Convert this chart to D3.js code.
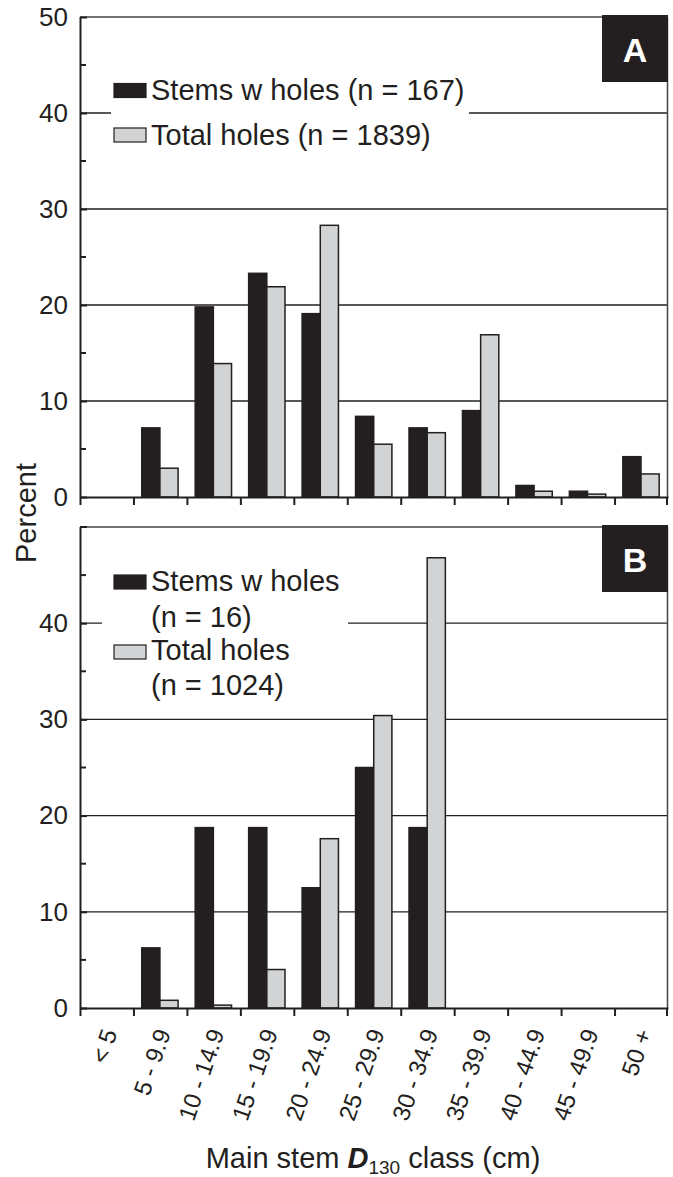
<!DOCTYPE html>
<html><head><meta charset="utf-8">
<script src="https://cdn.jsdelivr.net/npm/d3@7"></script>
<style>body{margin:0;background:#fff}svg{display:block;font-family:"Liberation Sans",Arial,sans-serif}</style>
</head><body><svg id="c" width="673" height="1177"></svg>
<script>
const categories = ["< 5","5 - 9.9","10 - 14.9","15 - 19.9","20 - 24.9","25 - 29.9","30 - 34.9","35 - 39.9","40 - 44.9","45 - 49.9","50 +"];
const seriesNames = ["stems","holes"];
const stemsA = [0,7.2,19.8,23.3,19.1,8.4,7.2,9.0,1.2,0.6,4.2];
const holesA = [0,3.0,13.9,21.9,28.3,5.5,6.7,16.9,0.6,0.3,2.4];
const stemsB = [0,6.25,18.75,18.75,12.5,25,18.75,0,0,0,0];
const holesB = [0,0.8,0.3,4.0,17.6,30.4,46.8,0,0,0,0];
const yTicks = [0,10,20,30,40,50];
const yMinor = [5,15,25,35,45];
const legendA = [["Stems w holes (n = 167)"],["Total holes (n = 1839)"]];
const legendB = [["Stems w holes","(n = 16)"],["Total holes","(n = 1024)"]];

const svg = d3.select("#c");
const ink = "#231f20", grey = "#d1d3d4";
const x = d3.scaleBand().domain(categories).range([80,668]).padding(0);
const bw = x.bandwidth();
const xs = d3.scaleBand().domain(seriesNames).range([0.155*bw,0.835*bw]).padding(0);

function panel(top, bottom, stems, holes, label, legend, legendCfg, showLabels, show50){
  const y = d3.scaleLinear().domain([0,50]).range([bottom, top]);
  const g = svg.append("g");
  g.selectAll("line.grid").data([10,20,30,40]).join("line")
    .attr("x1",80).attr("x2",668).attr("y1",d=>y(d)).attr("y2",d=>y(d))
    .attr("stroke",ink).attr("stroke-width",1.3);
  g.append("line").attr("x1",80).attr("x2",668).attr("y1",y(50)).attr("y2",y(50)).attr("stroke","#444").attr("stroke-width",1.5);
  g.append("line").attr("x1",667.5).attr("x2",667.5).attr("y1",y(50)).attr("y2",y(0)).attr("stroke","#444").attr("stroke-width",1.5);
  const lb = legendCfg.bg;
  g.append("rect").attr("x",lb[0]).attr("y",lb[1]).attr("width",lb[2]).attr("height",lb[3]).attr("fill","#fff");
  const rows = categories.map((c,i)=>({c, vals:[{k:"stems",v:stems[i]},{k:"holes",v:holes[i]}]}));
  const cg = g.selectAll("g.cat").data(rows).join("g").attr("transform",d=>`translate(${x(d.c)},0)`);
  cg.selectAll("rect").data(d=>d.vals.filter(v=>v.v>0)).join("rect")
    .attr("x",d=>xs(d.k)).attr("width",xs.bandwidth())
    .attr("y",d=>y(d.v)).attr("height",d=>y(0)-y(d.v))
    .attr("fill",d=>d.k==="stems"?ink:grey).attr("stroke",ink).attr("stroke-width",1.5);
  const ya = d3.axisLeft(y).tickValues(show50?yTicks:yTicks.slice(0,5)).tickSize(-7).tickPadding(12).tickFormat(d3.format("d"));
  const yg = g.append("g").attr("transform","translate(80,0)").call(ya);
  yg.select(".domain").attr("stroke",ink).attr("stroke-width",2).attr("d",`M0.5,${y(50)}V${y(0)}`);
  yg.selectAll(".tick line").attr("stroke",ink).attr("stroke-width",2);
  yg.selectAll(".tick text").attr("font-size",26).attr("fill",ink).attr("font-family","Liberation Sans, Arial, sans-serif");
  if(!show50){ g.append("line").attr("x1",80).attr("x2",87).attr("y1",y(50)).attr("y2",y(50)).attr("stroke",ink).attr("stroke-width",2); }
  g.selectAll("line.minor").data(yMinor).join("line")
    .attr("x1",80).attr("x2",86).attr("y1",d=>y(d)).attr("y2",d=>y(d)).attr("stroke",ink).attr("stroke-width",2);
  const xa = d3.axisBottom(x).tickValues([]).tickSizeOuter(0);
  const xg = g.append("g").attr("transform",`translate(0,${y(0)})`).call(xa);
  xg.select(".domain").attr("stroke",ink).attr("stroke-width",2.2);
  const bounds = categories.map(c=>x(c)).concat([668]);
  g.selectAll("line.xt").data(bounds).join("line")
    .attr("x1",d=>d===668?667:d+0.5).attr("x2",d=>d===668?667:d+0.5).attr("y1",y(0)).attr("y2",y(0)+8)
    .attr("stroke",ink).attr("stroke-width",2);
  if(showLabels){
    g.selectAll("text.xl").data(categories).join("text")
      .attr("transform",d=>`translate(${x(d)+bw/2+3},${y(0)+22}) rotate(-71)`)
      .attr("text-anchor","end").attr("dy","0.35em").attr("font-size",24).attr("fill",ink).text(d=>d);
  }
  g.append("rect").attr("x",602).attr("y",top-2).attr("width",66).attr("height",67).attr("fill",ink);
  g.append("text").attr("x",635).attr("y",top+45).attr("text-anchor","middle").attr("font-size",34).attr("font-weight","bold").attr("fill","#fff").text(label);
  legend.forEach((lines,i)=>{
    const r = legendCfg.rows[i];
    g.append("rect").attr("x",114).attr("y",r.sy).attr("width",32).attr("height",14)
      .attr("fill",i===0?ink:grey).attr("stroke",ink).attr("stroke-width",1.2);
    lines.forEach((t,j)=>{
      g.append("text").attr("x",151).attr("y",r.ty[j]).attr("font-size",29).attr("fill",ink).text(t);
    });
  });
}

panel(17, 497, stemsA, holesA, "A", legendA,
  {bg:[111,68,358,92], rows:[{sy:83.5,ty:[100]},{sy:128,ty:[144.5]}]}, false, true);
panel(527, 1008, stemsB, holesB, "B", legendB,
  {bg:[102,560,246,145], rows:[{sy:575,ty:[591,627]},{sy:645,ty:[660,695]}]}, true, false);

svg.append("text").attr("transform","translate(36,513) rotate(-90)").attr("text-anchor","middle")
  .attr("font-size",29).attr("fill",ink).text("Percent");
const xt = svg.append("text").attr("x",373).attr("y",1168).attr("text-anchor","middle").attr("font-size",29).attr("fill",ink);
xt.append("tspan").text("Main stem ");
xt.append("tspan").attr("font-weight","bold").attr("font-style","italic").text("D");
xt.append("tspan").attr("font-size",19).attr("dy",6).text("130");
xt.append("tspan").attr("dy",-6).text(" class (cm)");
</script></body></html>
